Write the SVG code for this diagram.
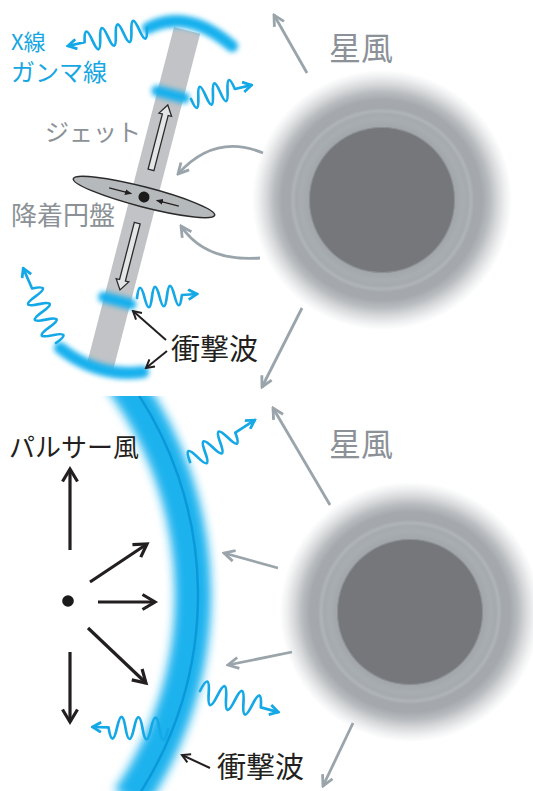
<svg xmlns="http://www.w3.org/2000/svg" width="533" height="791" viewBox="0 0 533 791">
  <style>
    text { font-family: "Noto Sans CJK JP", "Noto Sans", sans-serif; font-weight: 400; }
    .t-blue { fill: #16a6e2; }
    .t-gray { fill: #8b9197; }
    .t-black { fill: #231f20; }
    .wind { fill: none; stroke: #9aa4ab; stroke-width: 2.8; marker-end: url(#ah-gray); }
    .flow { fill: none; stroke: #231f20; stroke-width: 3.2; marker-end: url(#ah-black); }
    .pointer { fill: none; stroke: #231f20; stroke-width: 2; marker-end: url(#ah-small); }
    .swirl { fill: none; stroke: #9aa4ab; stroke-width: 2.8; marker-end: url(#ah-gray); }
    .wave { fill: none; stroke: #14a8e6; stroke-width: 2.7; stroke-linejoin: round; stroke-linecap: round; marker-end: url(#ah-blue); }
    .glow { fill: none; stroke: #16b0ee; stroke-linecap: round; filter: url(#soft); }
    .hollow { fill: #e4e5e6; stroke: #2b2b2b; stroke-width: 1.3; stroke-linejoin: miter; }
  </style>
  <defs>
    <marker id="ah-gray" viewBox="0 0 14 14" refX="12" refY="7" markerWidth="14" markerHeight="14" markerUnits="userSpaceOnUse" orient="auto">
      <path d="M1.5,1.5 L12,7 L1.5,12.5" fill="none" stroke="#9aa4ab" stroke-width="2.8"/>
    </marker>
    <marker id="ah-black" viewBox="0 0 18 18" refX="14" refY="9" markerWidth="18" markerHeight="18" markerUnits="userSpaceOnUse" orient="auto">
      <path d="M1.5,1.5 L14,9 L1.5,16.5" fill="none" stroke="#231f20" stroke-width="3.2"/>
    </marker>
    <marker id="ah-small" viewBox="0 0 11 11" refX="9" refY="5.5" markerWidth="11" markerHeight="11" markerUnits="userSpaceOnUse" orient="auto">
      <path d="M1,1 L9,5.5 L1,10" fill="none" stroke="#231f20" stroke-width="2"/>
    </marker>
    <marker id="ah-blue" viewBox="0 0 12 12" refX="10" refY="6" markerWidth="12" markerHeight="12" markerUnits="userSpaceOnUse" orient="auto">
      <path d="M1.5,1 L10,6 L1.5,11" fill="none" stroke="#14a8e6" stroke-width="2.8"/>
    </marker>
    <marker id="ah-tiny" viewBox="0 0 7 6" refX="6.5" refY="3" markerWidth="7" markerHeight="6" markerUnits="userSpaceOnUse" orient="auto">
      <path d="M0,0 L7,3 L0,6 z" fill="#231f20"/>
    </marker>
    <filter id="soft" filterUnits="userSpaceOnUse" x="-1000" y="-1000" width="3000" height="3000">
      <feGaussianBlur stdDeviation="2.6"/>
    </filter>
    <filter id="bandblur" filterUnits="userSpaceOnUse" x="-1000" y="-1000" width="3000" height="3000">
      <feGaussianBlur stdDeviation="5"/>
    </filter>
    <radialGradient id="halo" cx="50%" cy="50%" r="50%">
      <stop offset="0" stop-color="#8d9095"/>
      <stop offset="0.56" stop-color="#8d9095"/>
      <stop offset="0.565" stop-color="#a2a7ac"/>
      <stop offset="0.62" stop-color="#a8adb2"/>
      <stop offset="0.66" stop-color="#a5aaaf"/>
      <stop offset="0.685" stop-color="#afb4b8"/>
      <stop offset="0.71" stop-color="#a4a8ad"/>
      <stop offset="0.77" stop-color="#a5a8ad"/>
      <stop offset="0.83" stop-color="#b9bcbf"/>
      <stop offset="0.89" stop-color="#d6d8da"/>
      <stop offset="0.95" stop-color="#eff0f1"/>
      <stop offset="1" stop-color="#ffffff"/>
    </radialGradient>
    <clipPath id="lower-panel">
      <rect x="0" y="396" width="533" height="395"/>
    </clipPath>
  </defs>

  <rect width="533" height="791" fill="#ffffff"/>

  <!-- upper system: star with jet and accretion disk -->
  <g id="star-top">
    <circle cx="382" cy="200" r="130" fill="url(#halo)"/>
    <circle cx="382" cy="200" r="72" fill="#76777b"/>
    <text class="t-gray" x="329" y="60" font-size="32">星風</text>
  </g>

  <g id="jet" transform="translate(144,197) rotate(14.5)">
    <rect x="-13.5" y="-172" width="27" height="347" fill="#c1c3c6"/>
    <polygon class="hollow" points="-3,-28 3,-28 3,-85 6.5,-85 0,-95 -6.5,-85 -3,-85"/>
    <polygon class="hollow" points="-3,27 3,27 3,86 6.5,86 0,96 -6.5,86 -3,86"/>
    <path class="glow" d="M-14,-106 L14,-106" stroke-width="11"/>
    <path class="glow" d="M-14,107 L14,107" stroke-width="11"/>
  </g>

  <g id="accretion-disk" transform="translate(144,197) rotate(14.5)">
    <ellipse cx="0" cy="0" rx="73" ry="10" fill="#b6b9bc" stroke="#2b2b2b" stroke-width="1.5"/>
    <path d="M-36,0 L-13,0" stroke="#231f20" stroke-width="1.3" marker-end="url(#ah-tiny)"/>
    <path d="M36,0 L13,0" stroke="#231f20" stroke-width="1.3" marker-end="url(#ah-tiny)"/>
    <circle cx="0" cy="0" r="5.5" fill="#1a1a1a"/>
  </g>

  <g id="shock-top">
    <path class="glow" d="M148,28 Q188,8 232,46" stroke-width="12"/>
    <path class="glow" d="M60,348 Q98,378 143,372" stroke-width="12"/>
  </g>

  <g id="labels-top">
    <text class="t-blue" x="11" y="50" font-size="22">X線</text>
    <text class="t-blue" x="11" y="81" font-size="24">ガンマ線</text>
    <text class="t-gray" x="45" y="141" font-size="24">ジェット</text>
    <text class="t-gray" x="11" y="225" font-size="26">降着円盤</text>
    <text class="t-black" x="171" y="360" font-size="29">衝撃波</text>
  </g>

  <!-- lower system: pulsar wind meeting stellar wind -->
  <g id="star-bottom">
    <circle cx="410" cy="612" r="130" fill="url(#halo)"/>
    <circle cx="410" cy="612" r="72" fill="#76777b"/>
    <text class="t-gray" x="329" y="456" font-size="32">星風</text>
  </g>

  <g id="shock-bottom" clip-path="url(#lower-panel)">
    <path d="M122.2,380 A362,362 0 0 1 129.4,800" fill="none" stroke="#1ab2ee" stroke-width="36" filter="url(#bandblur)"/>
    <path d="M128.4,380 A367,367 0 0 1 135.4,800" fill="none" stroke="#0a98d8" stroke-width="2.4"/>
  </g>

  <g id="pulsar">
    <circle cx="68" cy="601" r="5.8" fill="#1a1a1a"/>
    <text class="t-black" x="9" y="457" font-size="26">パルサー風</text>
    <text class="t-black" x="217" y="778" font-size="29">衝撃波</text>
  </g>

  <!-- connectors -->
  <g id="connectors">
    <!-- stellar wind, upper -->
    <path class="wind" d="M307,73 L274,15"/>
    <path class="wind" d="M302,308 L262,387"/>
    <path class="swirl" d="M263,153 Q215,133 178,174"/>
    <path class="swirl" d="M260,258 Q205,262 181,226"/>
    <!-- shock pointers, upper -->
    <path class="pointer" d="M166,340 L133,311"/>
    <path class="pointer" d="M167,351 L146,368"/>
    <!-- radiation, upper -->
    <path class="wave" transform="translate(147,28) rotate(167.2)" d="M0,0 q4,-20 8,0 t8,0 t8,0 t8,0 t8,0 t8,0 t8,0 t8,0 l17,0"/>
    <path class="wave" transform="translate(191,99) rotate(-12.9)" d="M0,0 q3.75,20 7.5,0 t7.5,0 t7.5,0 t7.5,0 t7.5,0 t7.5,0 l17,0"/>
    <path class="wave" transform="translate(137,298) rotate(-3.8)" d="M0,0 q3.75,-20 7.5,0 t7.5,0 t7.5,0 t7.5,0 t7.5,0 t7.5,0 l15,0"/>
    <path class="wave" transform="translate(56,343) rotate(-113.7)" d="M0,0 q4.25,20 8.5,0 t8.5,0 t8.5,0 t8.5,0 t8.5,0 t8.5,0 t8.5,0 l22,0"/>

    <!-- pulsar wind -->
    <path class="flow" d="M70,550 L70,469"/>
    <path class="flow" d="M90,582 L147,544"/>
    <path class="flow" d="M98,602 L155,602"/>
    <path class="flow" d="M88,628 L146,683"/>
    <path class="flow" d="M70,652 L70,722"/>
    <!-- stellar wind, lower -->
    <path class="wind" d="M330,505 L273,408"/>
    <path class="wind" d="M278,568 L224,553"/>
    <path class="wind" d="M292,652 L228,665"/>
    <path class="wind" d="M353,723 L323,786"/>
    <!-- shock pointer, lower -->
    <path class="pointer" d="M210,768 L182,755"/>
    <!-- radiation, lower -->
    <path class="wave" transform="translate(190,462) rotate(-32.9)" d="M0,0 q4.5,-20 9,0 t9,0 t9,0 t9,0 t9,0 t9,0 l23,0"/>
    <path class="wave" transform="translate(200,691) rotate(15.1)" d="M0,0 q4.5,-22 9,0 t9,0 t9,0 t9,0 t9,0 t9,0 t9,0 l18,0"/>
    <path class="wave" transform="translate(168,729) rotate(181.5)" d="M0,0 q4.25,-22 8.5,0 t8.5,0 t8.5,0 t8.5,0 t8.5,0 t8.5,0 t8.5,0 l16,0"/>
  </g>
</svg>
